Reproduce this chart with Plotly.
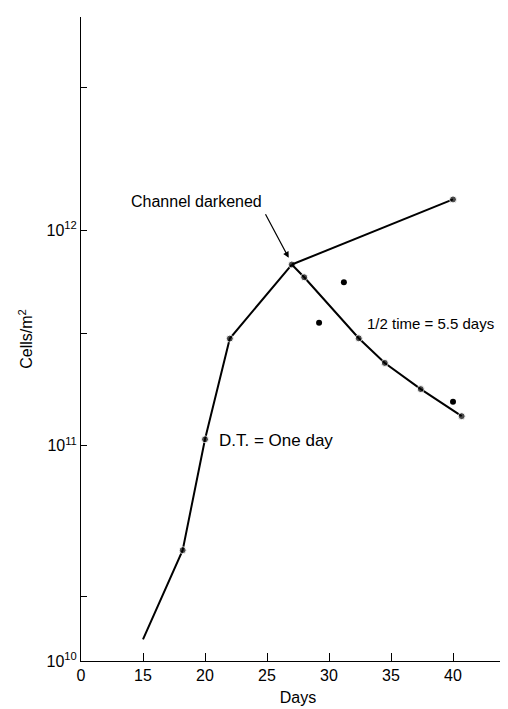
import plotly.graph_objects as go

# Cell counts (cells per m^2)
growth_days = [15, 18.2, 20, 22, 27]
growth_cells = [1.26e10, 3.27e10, 1.07e11, 3.14e11, 6.93e11]

upper_days = [27, 40]
upper_cells = [6.93e11, 1.39e12]

decline_days = [27, 28, 32.4, 34.5, 37.4, 40.7]
decline_cells = [6.93e11, 6.05e11, 3.15e11, 2.42e11, 1.83e11, 1.37e11]

scatter_days = [29.2, 31.2, 40]
scatter_cells = [3.72e11, 5.74e11, 1.60e11]

x_ticks = [10, 15, 20, 25, 30, 35, 40]
x_labels = ["0", "15", "20", "25", "30", "35", "40"]
y_ticks = [1e10, 2e10, 1e11, 3.3e11, 1e12, 4.6e12]
y_labels = ["10<sup>10</sup>", "", "10<sup>11</sup>", "", "10<sup>12</sup>", ""]

family = "Liberation Sans, Arial, sans-serif"
font = dict(family=family, size=16, color="black")
note_font = dict(family=family, size=16, color="black")
line = dict(color="black", width=2)
dot = 7

fig = go.Figure()
fig.add_trace(go.Scatter(x=growth_days, y=growth_cells, mode="lines+markers",
                         line=line, marker=dict(size=[0, dot, dot, dot, dot], color="black")))
fig.add_trace(go.Scatter(x=upper_days, y=upper_cells, mode="lines+markers",
                         line=line, marker=dict(size=[0, dot], color="black")))
fig.add_trace(go.Scatter(x=decline_days, y=decline_cells, mode="lines+markers",
                         line=line, marker=dict(size=[0] + [dot] * 5, color="black")))
fig.add_trace(go.Scatter(x=scatter_days, y=scatter_cells, mode="markers",
                         marker=dict(size=dot - 1, color="black")))

# Text labels
fig.add_annotation(x=24.73, y=12.134, text="Channel darkened", showarrow=False,
                   xanchor="right", yanchor="middle", font=note_font)
fig.add_annotation(x=26.75, y=11.872, ax=-24, ay=-45, text="", showarrow=True,
                   arrowhead=2, arrowsize=1, arrowwidth=1.2, arrowcolor="black")
fig.add_annotation(x=32.9, y=11.565, text="1/2 time = 5.5 days", showarrow=False,
                   xanchor="left", yanchor="middle",
                   font=dict(family=family, size=15, color="black"))
fig.add_annotation(x=21.0, y=11.023, text="D.T. = One day", showarrow=False,
                   xanchor="left", yanchor="middle", font=dict(family=family, size=17, color="black"))

fig.update_layout(
    width=508, height=709,
    margin=dict(l=73, r=1, t=9, b=56),
    paper_bgcolor="white", plot_bgcolor="white",
    showlegend=False, font=font,
    xaxis=dict(range=[10, 45], tickvals=x_ticks, ticktext=x_labels, automargin=False,
               ticks="inside", ticklen=8, tickcolor="black", tickwidth=1,
               showline=True, linecolor="black", linewidth=1, showgrid=False,
               zeroline=False,
               title=dict(text="Days", standoff=8, font=dict(family=family, size=16, color="black"))),
    yaxis=dict(type="log", range=[10, 12.99], tickvals=y_ticks, ticktext=y_labels,
               automargin=False,
               ticks="inside", ticklen=6, tickcolor="black", tickwidth=1,
               showline=True, linecolor="black", linewidth=1, showgrid=False,
               zeroline=False,
               title=dict(text="Cells/m<sup>2</sup>", standoff=9,
                          font=dict(family=family, size=16, color="black"))),
)

fig.write_html("out.html")
